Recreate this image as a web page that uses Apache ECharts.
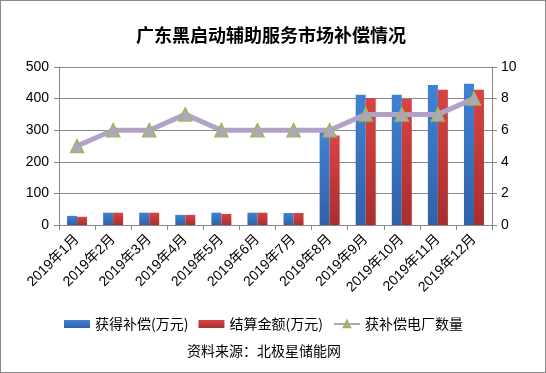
<!DOCTYPE html>
<html><head><meta charset="utf-8">
<script src="https://cdn.jsdelivr.net/npm/echarts@6/dist/echarts.min.js"></script>
<style>
html,body{margin:0;padding:0;background:#fff;}
#c{width:546px;height:373px;box-sizing:border-box;border:1px solid #888;}
</style></head>
<body><div id="c"></div>
<script>
const categories = ['2019年1月','2019年2月','2019年3月','2019年4月','2019年5月','2019年6月','2019年7月','2019年8月','2019年9月','2019年10月','2019年11月','2019年12月'];
const compensation = [29, 39, 39, 32, 39, 39, 38, 296, 412, 412, 443, 447];
const settlement = [26, 39, 39, 32, 35, 39, 38, 283, 402, 399, 428, 428];
const plantCount = [5, 6, 6, 7, 6, 6, 6, 6, 7, 7, 7, 8];
const leftTicks = [0, 100, 200, 300, 400, 500];
const rightTicks = [0, 2, 4, 6, 8, 10];

const chart = echarts.init(document.getElementById('c'));
const font = '"Liberation Sans", "Noto Sans CJK SC", sans-serif';
const cjk = '"Noto Sans CJK SC", sans-serif';
function grad(top, bottom){
  return new echarts.graphic.LinearGradient(0,0,0,1,[{offset:0,color:top},{offset:1,color:bottom}]);
}
chart.setOption({
  animation:false,
  textStyle:{fontFamily:font},
  title:{text:'广东黑启动辅助服务市场补偿情况',left:130,top:20,
    textStyle:{fontSize:18,fontWeight:'bold',color:'#000',fontFamily:cjk}},
  grid:{left:58,right:53,top:66,bottom:147,containLabel:false},
  legend:{top:311,left:58,itemWidth:26,itemHeight:8,itemGap:10,
    textStyle:{fontSize:14,color:'#000',fontFamily:cjk},
    data:[{name:'获得补偿(万元)',icon:'rect'},{name:'结算金额(万元)',icon:'rect'},{name:'获补偿电厂数量'}]},
  graphic:[{type:'text',left:186,top:343,style:{text:'资料来源：北极星储能网',fontSize:14,fill:'#000',fontFamily:cjk}}],
  xAxis:{type:'category',data:categories,
    axisLine:{lineStyle:{color:'#888'}},
    axisTick:{show:true,lineStyle:{color:'#888'},length:5},
    axisLabel:{rotate:45,fontSize:14,color:'#000',interval:0,margin:12}},
  yAxis:[
    {type:'value',min:0,max:500,interval:100,
     axisLine:{show:true,lineStyle:{color:'#888'}},
     axisTick:{show:true,length:5,lineStyle:{color:'#888'}},
     splitLine:{lineStyle:{color:'#888'}},
     axisLabel:{fontSize:14,color:'#000',margin:10}},
    {type:'value',min:0,max:10,interval:2,
     axisLine:{show:true,lineStyle:{color:'#888'}},
     axisTick:{show:true,length:5,lineStyle:{color:'#888'}},
     splitLine:{show:false},
     axisLabel:{fontSize:14,color:'#000',margin:9}}
  ],
  series:[
    {name:'获得补偿(万元)',type:'bar',data:compensation,barWidth:10,barGap:'0%',
     itemStyle:{color:grad('#3f82d4','#2f62a8')}},
    {name:'结算金额(万元)',type:'bar',data:settlement,barWidth:10,barGap:'0%',
     itemStyle:{color:grad('#d84444','#a82e2e')}},
    {name:'获补偿电厂数量',type:'line',yAxisIndex:1,data:plantCount,
     symbol:'triangle',symbolSize:13,
     lineStyle:{color:'#b3a2c7',width:5},
     itemStyle:{color:'#b3a2c7',borderColor:'#9bbb59',borderWidth:1.5}}
  ]
});
</script></body></html>
